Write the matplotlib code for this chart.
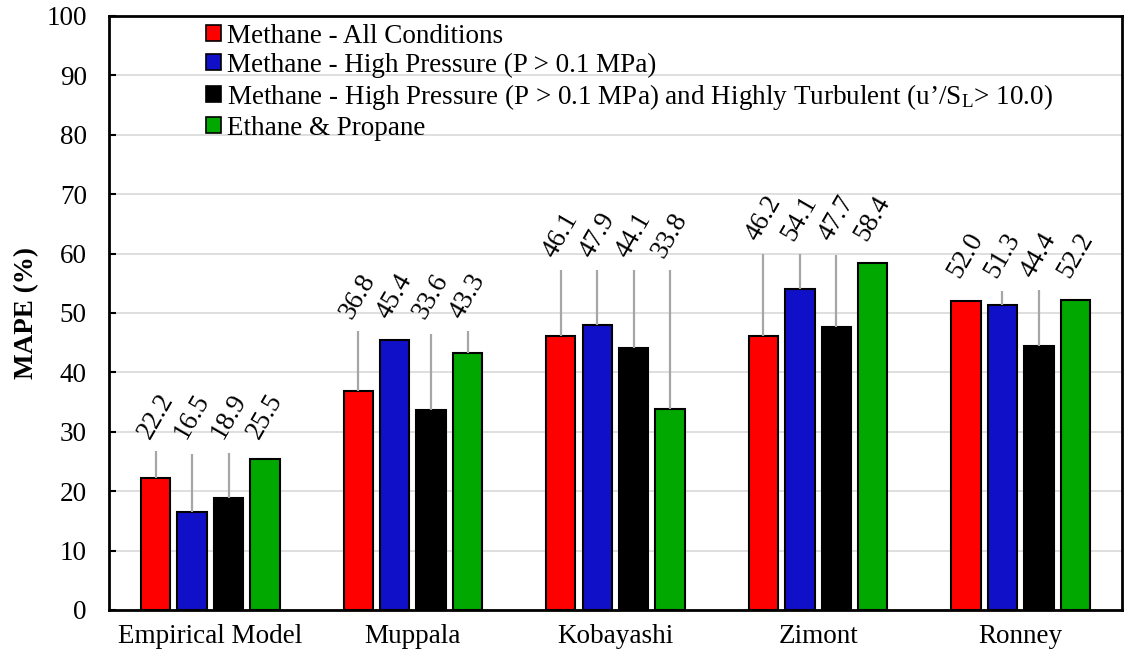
import numpy as np
import matplotlib
matplotlib.use("Agg")
import matplotlib.pyplot as plt
from matplotlib.patches import Patch

plt.rcParams["font.family"] = ["Liberation Serif", "DejaVu Serif"]
plt.rcParams["mathtext.fontset"] = "custom"
plt.rcParams["mathtext.rm"] = "Liberation Serif"

# MAPE of each flame-speed correlation, per data subset
models = ["Empirical Model", "Muppala", "Kobayashi", "Zimont", "Ronney"]
series_names = [
    "Methane - All Conditions",
    "Methane - High Pressure (P > 0.1 MPa)",
    "Methane - High Pressure (P > 0.1 MPa) and Highly Turbulent (u\u2019/S$\\mathrm{_L}$> 10.0)",
    "Ethane & Propane",
]
mape_all = [22.2, 36.8, 46.1, 46.2, 52.0]
mape_hp = [16.5, 45.4, 47.9, 54.1, 51.3]
mape_hp_turb = [18.9, 33.6, 44.1, 47.7, 44.4]
mape_c2c3 = [25.5, 43.3, 33.8, 58.4, 52.2]

# upper error (one-sided)
err_all = [4.5, 10.1, 11.1, 13.8, 0.0]
err_hp = [9.8, 0.0, 9.3, 5.9, 2.4]
err_hp_turb = [7.6, 12.8, 13.1, 12.0, 9.4]
err_c2c3 = [0.0, 3.6, 23.4, 0.0, 0.0]

COLORS = ["#ff0000", "#1010c8", "#000000", "#00a800"]
GRID_COLOR = "#d9d9d9"
ERR_COLOR = "#a6a6a6"
FS = 19.5

values = np.array([mape_all, mape_hp, mape_hp_turb, mape_c2c3])
errors = np.array([err_all, err_hp, err_hp_turb, err_c2c3])

fig = plt.figure(figsize=(11.25, 6.6), dpi=100)
ax = fig.add_axes([0.0969, 0.0758, 0.9004, 0.9])

x = np.arange(len(models))
step = 0.18
width = 0.145
offsets = (np.arange(4) - 1.5) * step

# label height per group sits just above the tallest error bar
group_top = (values + errors).max(axis=0) + 1.4

for i in range(4):
    xs = x + offsets[i]
    ax.bar(xs, values[i], width=width, color=COLORS[i], edgecolor="black",
           linewidth=1.5, zorder=3)
    ax.errorbar(xs, values[i], yerr=[np.zeros(len(models)), errors[i]],
                fmt="none", ecolor=ERR_COLOR, elinewidth=1.6, capsize=0, zorder=4)
    for xi, v, gt in zip(xs, values[i], group_top):
        ax.text(xi, gt, f"{v:.1f}", rotation=60, ha="center", va="bottom",
                fontsize=FS, zorder=5)

ax.set_ylim(0, 100)
ax.set_xlim(-0.5, len(models) - 0.5)
ax.set_yticks(np.arange(0, 101, 10))
ax.set_xticks(x)
ax.set_xticklabels(models)
ax.tick_params(axis="y", direction="in", length=5, width=1.5, pad=16, labelsize=FS)
ax.tick_params(axis="x", length=0, pad=10, labelsize=FS)
ax.yaxis.grid(True, color=GRID_COLOR, linewidth=1.2, zorder=0)
ax.set_axisbelow(True)
for spine in ax.spines.values():
    spine.set_linewidth(2)
    spine.set_color("black")

ax.set_ylabel("MAPE (%)", fontsize=FS, fontweight="bold", labelpad=5)

handles = [Patch(facecolor=c, edgecolor="black", linewidth=1.2) for c in COLORS]
ax.legend(handles, series_names, loc="upper left", bbox_to_anchor=(0.082, 1.01),
          frameon=False, fontsize=FS, handlelength=0.55, handleheight=0.55,
          handletextpad=0.25, labelspacing=0.15, borderaxespad=0.1)

fig.savefig("out.png", dpi=100)
